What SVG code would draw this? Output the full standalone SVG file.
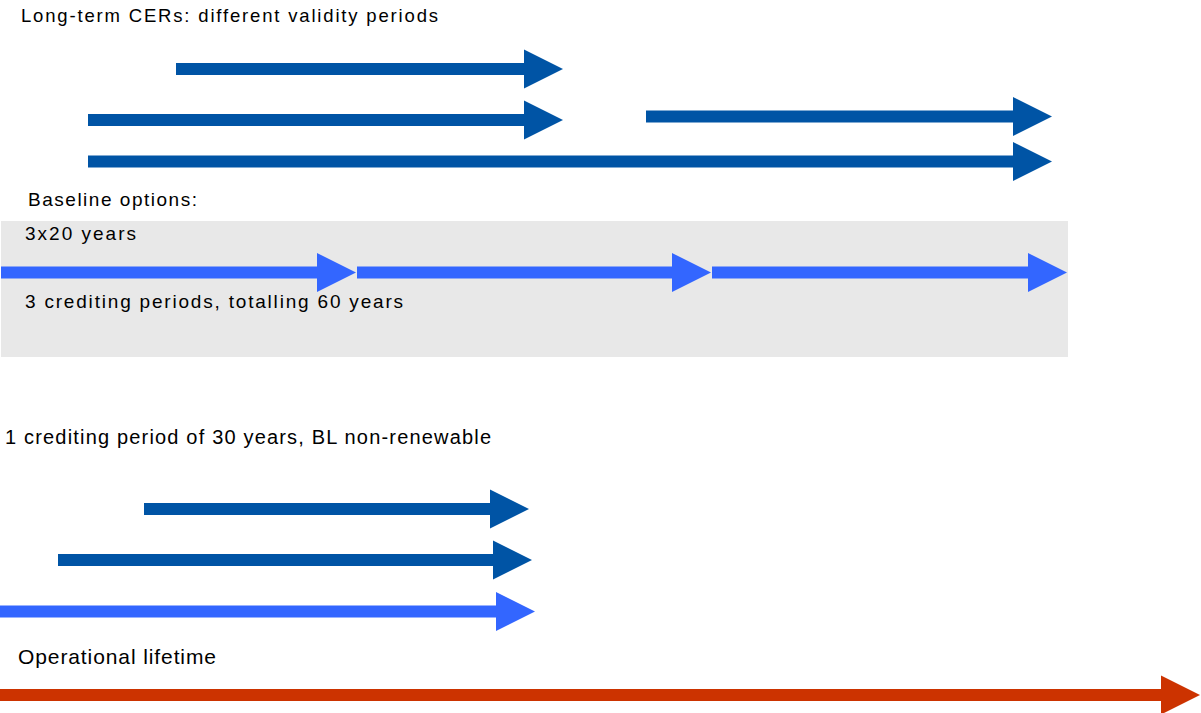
<svg xmlns="http://www.w3.org/2000/svg" width="1201" height="713" viewBox="0 0 1201 713">
<style>
text{font-family:"Liberation Sans",Arial,sans-serif;fill:#000}
.dark{fill:#0054A5}
.light{fill:#3366FF}
.red{fill:#CC3300}
</style>
<rect x="0" y="0" width="1201" height="713" fill="#fff"/>
<g id="baseline-panel">
<rect x="1" y="221" width="1067" height="136" fill="#E8E8E8"/>
</g>
<g id="labels">
<text x="21" y="22" font-size="18.5" textLength="417" lengthAdjust="spacing">Long-term CERs: different validity periods</text>
<text x="28" y="206" font-size="19" textLength="169" lengthAdjust="spacing">Baseline options:</text>
<text x="25" y="240" font-size="19" textLength="111" lengthAdjust="spacing">3x20 years</text>
<text x="25" y="308" font-size="19" textLength="378" lengthAdjust="spacing">3 crediting periods, totalling 60 years</text>
<text x="5" y="444" font-size="20" textLength="486" lengthAdjust="spacing">1 crediting period of 30 years, BL non-renewable</text>
<text x="18" y="664" font-size="21" textLength="198" lengthAdjust="spacing">Operational lifetime</text>
</g>
<g id="connectors">
<g id="cer-arrows">
<polygon class="dark" points="176,63 524,63 524,49.5 563,69 524,88.5 524,75 176,75"/>
<polygon class="dark" points="88,114 524,114 524,100.5 563,120 524,139.5 524,126 88,126"/>
<polygon class="dark" points="646,110.5 1013,110.5 1013,97 1052,116.5 1013,136 1013,122.5 646,122.5"/>
<polygon class="dark" points="88,155.5 1013,155.5 1013,142 1052,161.5 1013,181 1013,167.5 88,167.5"/>
</g>
<g id="baseline-arrows">
<polygon class="light" points="1,266.5 317,266.5 317,253 356,272.5 317,292 317,278.5 1,278.5"/>
<polygon class="light" points="357,266.5 672,266.5 672,253 711,272.5 672,292 672,278.5 357,278.5"/>
<polygon class="light" points="712,266.5 1028,266.5 1028,253 1067,272.5 1028,292 1028,278.5 712,278.5"/>
</g>
<g id="single-period-arrows">
<polygon class="dark" points="144,503 490,503 490,489.5 529,509 490,528.5 490,515 144,515"/>
<polygon class="dark" points="58,554 493,554 493,540.5 532,560 493,579.5 493,566 58,566"/>
<polygon class="light" points="0,605.5 496,605.5 496,592 535,611.5 496,631 496,617.5 0,617.5"/>
</g>
<g id="lifetime-arrow">
<polygon class="red" points="0,689 1161,689 1161,675.5 1200,695 1161,714.5 1161,701 0,701"/>
</g>
</g>
</svg>
